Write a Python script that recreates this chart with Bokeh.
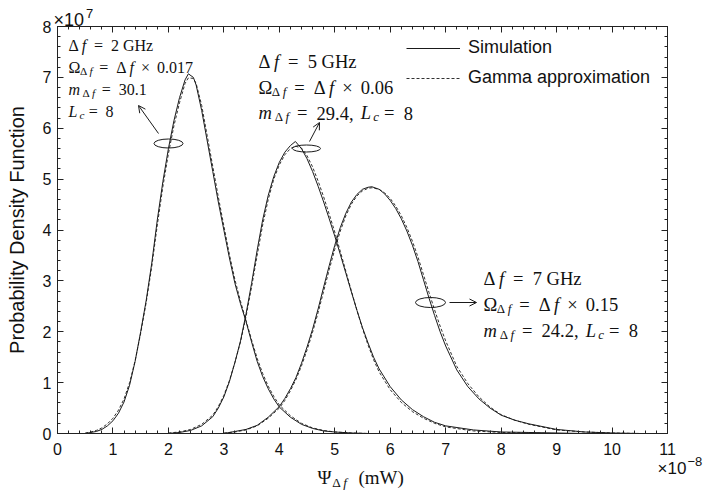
from bokeh.plotting import figure
from bokeh.models import (Label, Arrow, OpenHead, LinearAxis, SingleIntervalTicker,
                          Range1d, Legend, LegendItem)
from bokeh.embed import file_html
from bokeh.resources import INLINE

# ---------------- data (x in units of 1e-8 mW, y in units of 1e7) ----------------
x_2ghz = [0.5, 0.6, 0.7, 0.8, 0.9, 1.0, 1.1, 1.2, 1.3, 1.4, 1.5, 1.6, 1.7, 1.8, 1.9,
          2.0, 2.1, 2.2, 2.3, 2.36, 2.45, 2.5, 2.6, 2.7, 2.8, 2.9, 3.0, 3.1, 3.2, 3.3,
          3.4, 3.5, 3.6, 3.7, 3.8, 3.9, 4.0, 4.2, 4.4, 4.6, 4.8, 5.0, 5.3, 5.6]
sim_2ghz = [0.0, 0.02, 0.04, 0.08, 0.15, 0.25, 0.4, 0.62, 0.95, 1.42, 2.0, 2.62, 3.35, 4.2, 4.95,
            5.6, 6.15, 6.6, 6.95, 7.07, 7.0, 6.85, 6.35, 5.75, 5.15, 4.55, 4.0, 3.45, 2.95, 2.55,
            2.2, 1.8, 1.42, 1.12, 0.88, 0.68, 0.52, 0.32, 0.18, 0.1, 0.05, 0.03, 0.01, 0.0]
gam_2ghz = [0.01, 0.03, 0.06, 0.11, 0.19, 0.3, 0.46, 0.68, 1.0, 1.43, 1.97, 2.58, 3.28, 4.1, 4.85,
            5.5, 6.05, 6.5, 6.88, 6.99, 6.98, 6.88, 6.45, 5.85, 5.25, 4.65, 4.08, 3.52, 3.02, 2.6,
            2.22, 1.84, 1.48, 1.18, 0.93, 0.73, 0.56, 0.35, 0.2, 0.11, 0.06, 0.03, 0.01, 0.0]

x_5ghz = [2.0, 2.2, 2.4, 2.6, 2.8, 2.9, 3.0, 3.1, 3.2, 3.3, 3.4, 3.5, 3.6, 3.7, 3.8, 3.9,
          4.0, 4.1, 4.2, 4.29, 4.4, 4.5, 4.6, 4.7, 4.8, 4.9, 5.0, 5.1, 5.2, 5.3, 5.4, 5.5,
          5.6, 5.7, 5.8, 6.0, 6.2, 6.4, 6.6, 6.8, 7.0, 7.5, 8.0, 8.5, 9.0, 9.5]
sim_5ghz = [0.0, 0.02, 0.06, 0.15, 0.33, 0.5, 0.72, 1.02, 1.4, 1.82, 2.35, 2.95, 3.6, 4.2, 4.68, 5.05,
            5.33, 5.53, 5.66, 5.74, 5.6, 5.4, 5.15, 4.86, 4.55, 4.22, 3.88, 3.52, 3.15, 2.78, 2.42, 2.08,
            1.78, 1.5, 1.27, 0.92, 0.66, 0.47, 0.33, 0.22, 0.15, 0.07, 0.03, 0.02, 0.01, 0.0]
gam_5ghz = [0.01, 0.03, 0.08, 0.18, 0.36, 0.53, 0.75, 1.04, 1.4, 1.8, 2.3, 2.88, 3.5, 4.1, 4.6, 5.0,
            5.28, 5.48, 5.6, 5.65, 5.61, 5.46, 5.24, 4.96, 4.65, 4.31, 3.96, 3.58, 3.19, 2.8, 2.42, 2.06,
            1.74, 1.45, 1.21, 0.86, 0.61, 0.43, 0.3, 0.2, 0.13, 0.05, 0.02, 0.01, 0.0, 0.0]

x_7ghz = [3.0, 3.2, 3.4, 3.6, 3.8, 4.0, 4.1, 4.2, 4.3, 4.4, 4.5, 4.6, 4.7, 4.8, 4.9, 5.0,
          5.1, 5.2, 5.3, 5.4, 5.5, 5.6, 5.67, 5.8, 5.9, 6.0, 6.1, 6.2, 6.3, 6.4, 6.5, 6.6,
          6.7, 6.8, 6.9, 7.0, 7.2, 7.4, 7.6, 7.8, 8.0, 8.25, 8.5, 9.0, 9.5, 10.0, 10.5]
sim_7ghz = [0.0, 0.04, 0.08, 0.16, 0.32, 0.53, 0.69, 0.88, 1.1, 1.38, 1.7, 2.05, 2.45, 2.88, 3.3, 3.7,
            4.05, 4.33, 4.55, 4.7, 4.8, 4.84, 4.85, 4.8, 4.71, 4.58, 4.42, 4.22, 3.98, 3.7, 3.38, 3.02,
            2.66, 2.32, 2.0, 1.72, 1.25, 0.92, 0.68, 0.5, 0.36, 0.26, 0.19, 0.08, 0.03, 0.01, 0.0]
gam_7ghz = [0.01, 0.03, 0.07, 0.15, 0.3, 0.5, 0.65, 0.84, 1.06, 1.33, 1.64, 1.99, 2.38, 2.8, 3.22, 3.62,
            3.98, 4.28, 4.51, 4.67, 4.77, 4.82, 4.83, 4.8, 4.73, 4.62, 4.47, 4.28, 4.05, 3.78, 3.47, 3.12,
            2.77, 2.43, 2.11, 1.82, 1.32, 0.98, 0.72, 0.52, 0.37, 0.26, 0.18, 0.07, 0.03, 0.01, 0.0]

legend_labels = ["Simulation", "Gamma approximation"]
y_label = "Probability Density Function"

# ---------------- layout ----------------
# the plot frame covers the whole canvas; the axes box is drawn with fixed-location axes
W, H = 709, 490
BOX_L, BOX_R, BOX_T, BOX_B = 57, 667, 26, 433      # page pixels of the axes box
XMIN, XMAX, YMIN, YMAX = 0, 11, 0, 8
PX_X = (XMAX - XMIN) / (BOX_R - BOX_L)
PX_Y = (YMAX - YMIN) / (BOX_B - BOX_T)
XR = Range1d(XMIN - BOX_L * PX_X, XMAX + (W - BOX_R) * PX_X)
YR = Range1d(YMIN - (H - BOX_B) * PX_Y, YMAX + BOX_T * PX_Y)


def dx(sx):  # page px -> data x
    return XR.start + sx * PX_X


def dy(sy):  # page px -> data y
    return YR.end - sy * PX_Y


p = figure(width=W, height=H, x_range=XR, y_range=YR,
           output_backend="svg", toolbar_location=None,
           x_axis_location=None, y_axis_location=None,
           min_border_left=0, min_border_right=0, min_border_top=0, min_border_bottom=0)
p.grid.visible = False
p.outline_line_color = None
p.background_fill_color = "white"
p.border_fill_color = "white"

AX = "#222222"


def make_axis(labels, loc, bounds):
    ax = LinearAxis(ticker=SingleIntervalTicker(interval=1, num_minor_ticks=5),
                    fixed_location=loc, bounds=bounds)
    ax.major_tick_in = 6
    ax.major_tick_out = 0
    ax.minor_tick_in = 3
    ax.minor_tick_out = 0
    ax.axis_line_color = AX
    ax.major_tick_line_color = AX
    ax.minor_tick_line_color = AX
    if labels:
        ax.major_label_text_font = "Liberation Sans"
        ax.major_label_text_font_size = "16px"
        ax.major_label_text_color = "#111111"
    else:
        ax.major_label_text_font_size = "1px"
        ax.major_label_text_color = None
        ax.major_label_standoff = 0
    return ax


ax_b = make_axis(True, YMIN, (XMIN, XMAX))
ax_b.major_label_standoff = 9
ax_l = make_axis(True, XMIN, (YMIN, YMAX))
ax_l.major_label_standoff = 6
ax_l.axis_label = y_label
ax_l.axis_label_text_font = "Liberation Sans"
ax_l.axis_label_text_font_size = "20px"
ax_l.axis_label_text_font_style = "normal"
ax_l.axis_label_text_color = "#111111"
ax_l.axis_label_standoff = 12
p.add_layout(ax_b, "below")
p.add_layout(ax_l, "left")
p.add_layout(make_axis(False, YMAX, (XMIN, XMAX)), "above")
p.add_layout(make_axis(False, XMAX, (YMIN, YMAX)), "right")

# ---------------- curves ----------------
CL = "#1a1a1a"
r_sim = None
r_gam = None
for xs, ys, yg in [(x_2ghz, sim_2ghz, gam_2ghz), (x_5ghz, sim_5ghz, gam_5ghz), (x_7ghz, sim_7ghz, gam_7ghz)]:
    rs = p.line(xs, ys, line_color=CL, line_width=1)
    rg = p.line(xs, yg, line_color=CL, line_width=0.9, line_dash="3 2")
    if r_sim is None:
        r_sim, r_gam = rs, rg

legend = Legend(items=[LegendItem(label=legend_labels[0], renderers=[r_sim]),
                       LegendItem(label=legend_labels[1], renderers=[r_gam])],
                location=(406, 402), border_line_color=None, background_fill_alpha=0,
                label_text_font="Liberation Sans", label_text_font_size="18px",
                label_text_color="#111111",
                glyph_width=54, glyph_height=20, label_height=20, label_standoff=8,
                spacing=9, padding=5, margin=0)
p.add_layout(legend)

# ---------------- ellipses + arrows ----------------
for (sx, sy, w, h) in [(168, 143, 29, 9), (306, 148, 28, 7), (430, 302, 30, 10)]:
    p.ellipse(x=dx(sx), y=dy(sy), width=w * PX_X, height=h * PX_Y,
              fill_color=None, line_color=CL, line_width=1)

for (sx0, sy0, sx1, sy1) in [(158, 133, 138, 105), (309, 141, 319, 122), (449, 302, 476, 302)]:
    p.add_layout(Arrow(end=OpenHead(size=7, line_width=1, line_color=CL),
                       x_start=dx(sx0), y_start=dy(sy0), x_end=dx(sx1), y_end=dy(sy1),
                       line_color=CL, line_width=1))

# ---------------- math-like text ----------------
RM = {'0': .5, '1': .5, '2': .5, '3': .5, '4': .5, '5': .5, '6': .5, '7': .5, '8': .5, '9': .5,
      '.': .278, ',': .278, 'G': .785, 'H': .75, 'z': .444, 'Δ': .833, 'Ω': .722, 'Ψ': .778,
      '×': .778, '=': .778, '(': .389, ')': .389, 'm': .833, 'W': 1.028, ' ': .333}
IT = {'f': .49, 'm': .878, 'L': .681, 'c': .433}
SERIF = "Liberation Serif"


def math_line(sx, sy, size, toks):
    x = sx
    for t in toks:
        if isinstance(t, (int, float)):
            x += t * size
            continue
        text, it, sub = t
        s = size * 0.7 if sub else size
        y = sy + (0.24 * size if sub else 0)
        p.add_layout(Label(x=dx(x), y=dy(y), text=text, text_font=SERIF,
                           text_font_size=f"{s:.1f}px",
                           text_font_style="italic" if it else "normal",
                           text_baseline="alphabetic", text_align="left",
                           text_color="#111111"))
        x += sum((IT if it else RM)[c] for c in text) * s


def df_line(v):
    return [("Δ", 0, 0), ("f", 1, 0), .278, ("=", 0, 0), .278, (v, 0, 0)]


def omega_line(v):
    return [("Ω", 0, 0), ("Δ", 0, 1), ("f", 1, 1), .278, ("=", 0, 0), .278,
            ("Δ", 0, 0), ("f", 1, 0), .222, ("×", 0, 0), .222, (v, 0, 0)]


def lc_line(v):
    return [("L", 1, 0), ("c", 1, 1), .278, ("=", 0, 0), .278, (v, 0, 0)]


def m_line(v, with_lc):
    toks = [("m", 1, 0), ("Δ", 0, 1), ("f", 1, 1), .278, ("=", 0, 0), .278, (v, 0, 0)]
    if with_lc:
        toks += [.333] + lc_line("8")
    return toks


# block 1: 2 GHz
s1 = 16
math_line(68, 44.5, s1, df_line("2 GHz"))
math_line(68, 66.5, s1, omega_line("0.017"))
math_line(68, 89, s1, m_line("30.1", False))
math_line(68, 111, s1, lc_line("8"))
# block 2: 5 GHz
s2 = 18.5
math_line(258, 61, s2, df_line("5 GHz"))
math_line(258, 87, s2, omega_line("0.06"))
math_line(258, 112.5, s2, m_line("29.4,", True))
# block 3: 7 GHz
math_line(483, 278, s2, df_line("7 GHz"))
math_line(483, 304, s2, omega_line("0.15"))
math_line(483, 330, s2, m_line("24.2,", True))

# x-axis label
math_line(317, 477, 19, [("Ψ", 0, 0), ("Δ", 0, 1), ("f", 1, 1), .45, ("(mW)", 0, 0)])

# exponent labels
SANS = "Liberation Sans"
for (sx, sy, txt, fs) in [(53, 19, "×10", 18), (85.5, 13, "7", 13),
                          (657, 468, "×10", 17), (687, 461, "−8", 13)]:
    p.add_layout(Label(x=dx(sx), y=dy(sy), text=txt, text_font=SANS, text_font_size=f"{fs}px",
                       text_baseline="alphabetic", text_color="#111111"))

open("out.html", "w").write(file_html(p, INLINE))
